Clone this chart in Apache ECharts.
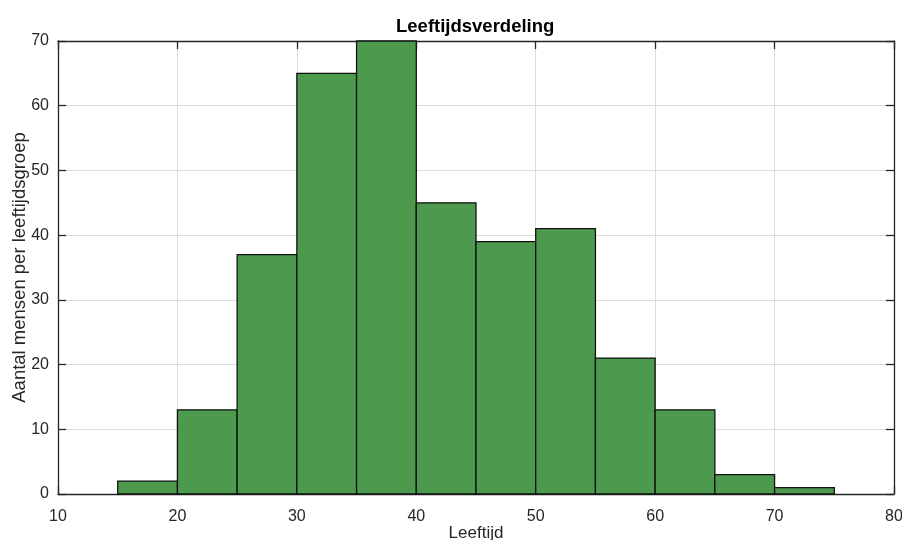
<!DOCTYPE html>
<html><head><meta charset="utf-8">
<script src="https://cdn.jsdelivr.net/npm/echarts@6/dist/echarts.min.js"></script>
<style>html,body{margin:0;padding:0;background:#fff}#c{width:902px;height:540px}</style>
</head><body><div id="c"></div>
<script>
const binStarts = [15,20,25,30,35,40,45,50,55,60,65,70];
const binWidth = 5;
const counts = [2,13,37,65,70,45,39,41,21,13,3,1];
const xTicks = [10,20,30,40,50,60,70,80];
const yTicks = [0,10,20,30,40,50,60,70];

const data = binStarts.map((s,i)=>[s, s+binWidth, counts[i]]);
const chart = echarts.init(document.getElementById('c'));
const axCol = '#262626';
const font = 'Liberation Sans, Arial, sans-serif';
function mkAxis(extra){
  return Object.assign({
    type:'value',
    nameMoveOverlap:false,
    axisLine:{show:true,onZero:false,lineStyle:{color:axCol,width:1.3}},
    axisTick:{show:true,inside:true,length:8,lineStyle:{color:axCol,width:1.3}},
    splitLine:{show:false}
  }, extra);
}
chart.setOption({
  animation:false,
  title:{text:'Leeftijdsverdeling',left:391,top:12,textStyle:{fontFamily:font,fontSize:18.5,fontWeight:'bold',color:'#000'}},
  grid:{left:58,right:8,top:41,bottom:46,outerBoundsMode:'none',containLabel:false},
  xAxis:[
    mkAxis({min:xTicks[0],max:xTicks[xTicks.length-1],interval:10,position:'bottom',
      name:'Leeftijd',nameLocation:'middle',nameGap:31,nameTextStyle:{fontFamily:font,fontSize:17,color:'#262626'},
      axisLabel:{fontFamily:font,fontSize:16,color:'#262626',margin:15},
      splitLine:{show:true,lineStyle:{color:'#dcdcdc',width:1}}}),
    mkAxis({min:xTicks[0],max:xTicks[xTicks.length-1],interval:10,position:'top',axisLabel:{show:false}})
  ],
  yAxis:[
    mkAxis({min:yTicks[0],max:yTicks[yTicks.length-1],interval:10,position:'left',
      name:'Aantal mensen per leeftijdsgroep',nameLocation:'middle',nameGap:29,nameTextStyle:{fontFamily:font,fontSize:18.5,color:'#262626'},
      axisLabel:{fontFamily:font,fontSize:16,color:'#262626',margin:9},
      splitLine:{show:true,lineStyle:{color:'#dcdcdc',width:1}}}),
    mkAxis({min:yTicks[0],max:yTicks[yTicks.length-1],interval:10,position:'right',axisLabel:{show:false}})
  ],
  series:[{
    type:'custom', xAxisIndex:0, yAxisIndex:0,
    data:data,
    encode:{x:[0,1],y:2},
    renderItem:function(params,api){
      const p0 = api.coord([api.value(0),0]);
      const p1 = api.coord([api.value(1),api.value(2)]);
      return {type:'rect',shape:{x:p0[0],y:p1[1],width:p1[0]-p0[0],height:p0[1]-p1[1]},
        style:{fill:'#4d994d',stroke:'#111',lineWidth:1.3}};
    }
  }]
});
</script></body></html>
